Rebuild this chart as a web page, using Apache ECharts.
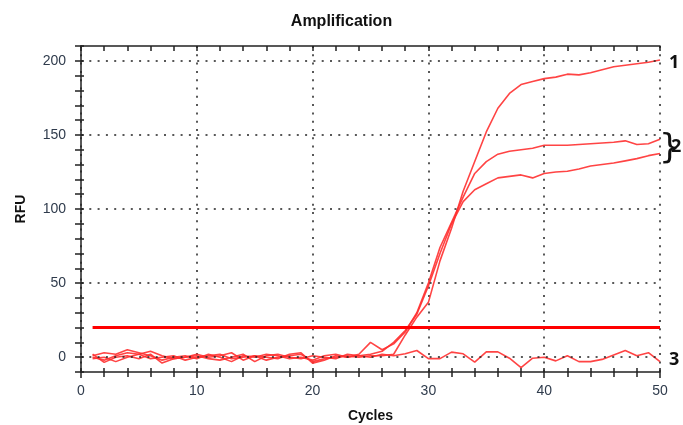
<!DOCTYPE html>
<html>
<head>
<meta charset="utf-8">
<script src="https://cdn.jsdelivr.net/npm/echarts@6/dist/echarts.min.js"></script>
<style>html,body{margin:0;padding:0;background:#fff}#c{width:683px;height:425px}</style>
</head>
<body>
<div id="c"></div>
<script>
// ---- data ----
var cycles = [];
for (var i = 1; i <= 50; i++) cycles.push(i);
var curve1 = [0,-2,1,3,2,-1,0,1,-2,0,1,2,-1,0,1,-2,0,1,2,-3,-1,0,1,
  0,1,1,2,15,27,37,65,87,112,132,152,168,178,184,186,188,189,191,190.5,192,194,196,197,198,199,200.5];
var curve2a = [1,3,2,5,3,1,-2,0,1,-1,2,0,-3,1,0,2,1,-1,0,-2,1,2,0,
  2,10,5,9,17,30,50,74,91,108,124,132,137,139,140,141,143,143,143,143.5,144,144.5,145,146,143.5,144,147];
var curve2b = [-1,0,-3,0,2,4,1,-1,0,2,0,1,3,-2,1,0,-1,2,3,-4,-2,1,0,
  1,2,4,10,18,29,48,70,90,105,113,117,121,122,123,121,124,125,125.5,127,129,130,131,132.5,134,136,137.5];
var curve3 = [2,-3.5,0,1,-1,2,-4,-1,0,1,-1,-2,0,2,-3,1,2,0,-1,1,0,-1,2,
  1,0,2,1,2.3,4.5,-1,-1,3.4,2.3,-3.4,3.6,3.6,-0.7,-7,-0.7,0,-2.5,1,-3,-3,-1.5,1.5,4.5,1,3,-3];
var threshold = 20;
var yGridValues = [0, 50, 100, 150, 200];
var curveLabels = ['1', '2', '3'];

function pairs(arr){ return arr.map(function(v,i){ return [cycles[i], v]; }); }

var red = '#ff3030';
var axisColor = '#222';
var labelColor = '#2f3b4c';
var dotted = {type:[2,6.3], color:'#222', width:1.5};
var numFont = 'Liberation Sans, Arial';
var tagStyle = {color:'#111', fontWeight:'bold', fontSize:18, fontFamily:'Noto Sans, Liberation Sans'};

var chart = echarts.init(document.getElementById('c'), null, {renderer:'canvas'});
var lineStyle = {color: red, width: 1.6, opacity: 0.9};
function curveSeries(data, extra){
  var s = {type:'line', data: pairs(data), symbol:'none', lineStyle: lineStyle, z: 3, animation:false};
  for (var k in extra) s[k] = extra[k];
  return s;
}
var midEnd = (curve2a[49] + curve2b[49]) / 2;
chart.setOption({
  animation: false,
  title: {text:'Amplification', left:'center', top:9,
    textStyle:{fontFamily:numFont, fontWeight:'bold', fontSize:16, color:'#111'}},
  grid: {left:81, right:23, top:46, bottom:53, containLabel:false, outerBoundsMode:'none'},
  xAxis: [
    {type:'value', min:0, max:50, interval:10, position:'bottom',
     axisLine:{show:true, onZero:false, lineStyle:{color:axisColor, width:1.5}},
     axisTick:{show:true, inside:false, length:6, lineStyle:{color:axisColor, width:1.5}},
     minorTick:{show:true, splitNumber:5, length:5, lineStyle:{color:axisColor, width:1.5}},
     axisLabel:{margin:12, color:labelColor, fontSize:14, fontFamily:numFont},
     splitLine:{show:true, lineStyle:dotted},
     name:'Cycles', nameLocation:'middle', nameGap:37,
     nameTextStyle:{fontWeight:'bold', fontSize:14, color:'#111', fontFamily:numFont}},
    {type:'value', min:0, max:50, interval:10, position:'bottom',
     axisLine:{show:false, onZero:false},
     axisTick:{show:true, inside:true, length:4, lineStyle:{color:axisColor, width:1.5}},
     minorTick:{show:true, splitNumber:5, length:4, lineStyle:{color:axisColor, width:1.5}},
     axisLabel:{show:false}, splitLine:{show:false}},
    {type:'value', min:0, max:50, interval:10, position:'top',
     axisLine:{show:true, onZero:false, lineStyle:{color:axisColor, width:1.5}},
     axisTick:{show:true, inside:true, length:5, lineStyle:{color:axisColor, width:1.5}},
     minorTick:{show:true, splitNumber:5, length:5, lineStyle:{color:axisColor, width:1.5}},
     axisLabel:{show:false}, splitLine:{show:false}}
  ],
  yAxis: [
    {type:'value', min:-10, max:210, interval:10, position:'left',
     axisLine:{show:true, onZero:false, lineStyle:{color:axisColor, width:1.5}},
     axisTick:{show:true, inside:false, length:6, lineStyle:{color:axisColor, width:1.5}},
     axisLabel:{margin:15, color:labelColor, fontSize:14, fontFamily:numFont,
       formatter:function(v){ return (v % 50 === 0 && v >= 0 && v <= 200) ? String(v) : ''; }},
     splitLine:{show:false},
     name:'RFU', nameLocation:'middle', nameGap:53, nameRotate:90,
     nameTextStyle:{fontWeight:'bold', fontSize:14, color:'#111', fontFamily:numFont}},
    {type:'value', min:-10, max:210, interval:10, position:'left',
     axisLine:{show:false, onZero:false},
     axisTick:{show:true, inside:true, length:3, lineStyle:{color:axisColor, width:1.5}},
     axisLabel:{show:false}, splitLine:{show:false}}
  ],
  series: [
    {type:'line', data:[], z:1, silent:true,
     markLine:{silent:true, symbol:'none', label:{show:false}, lineStyle:dotted, animation:false,
       data: yGridValues.map(function(v){ return {yAxis:v}; })}},
    curveSeries(curve3, {endLabel:Object.assign({show:true, formatter:curveLabels[2], distance:9, offset:[0,-2]}, tagStyle)}),
    curveSeries(curve2b, {markPoint:{symbol:'circle', symbolSize:0, silent:true, animation:false,
       data:[
         {coord:[50, midEnd], label:{show:true, position:'right', distance:-1, formatter:'}',
           color:'#111', fontSize:34, fontWeight:'normal', fontFamily:'DejaVu Sans', offset:[0,3]}},
         {coord:[50, midEnd], label:Object.assign({show:true, position:'right', distance:11, formatter:curveLabels[1]}, tagStyle)}
       ]}}),
    curveSeries(curve2a, {}),
    curveSeries(curve1, {endLabel:Object.assign({show:true, formatter:curveLabels[0], distance:9, offset:[0,3]}, tagStyle)}),
    {type:'line', data:[[cycles[0], threshold],[cycles[cycles.length-1], threshold]], symbol:'none',
     lineStyle:{color:'#ff0000', width:3}, z:4}
  ]
});
</script>
</body>
</html>
